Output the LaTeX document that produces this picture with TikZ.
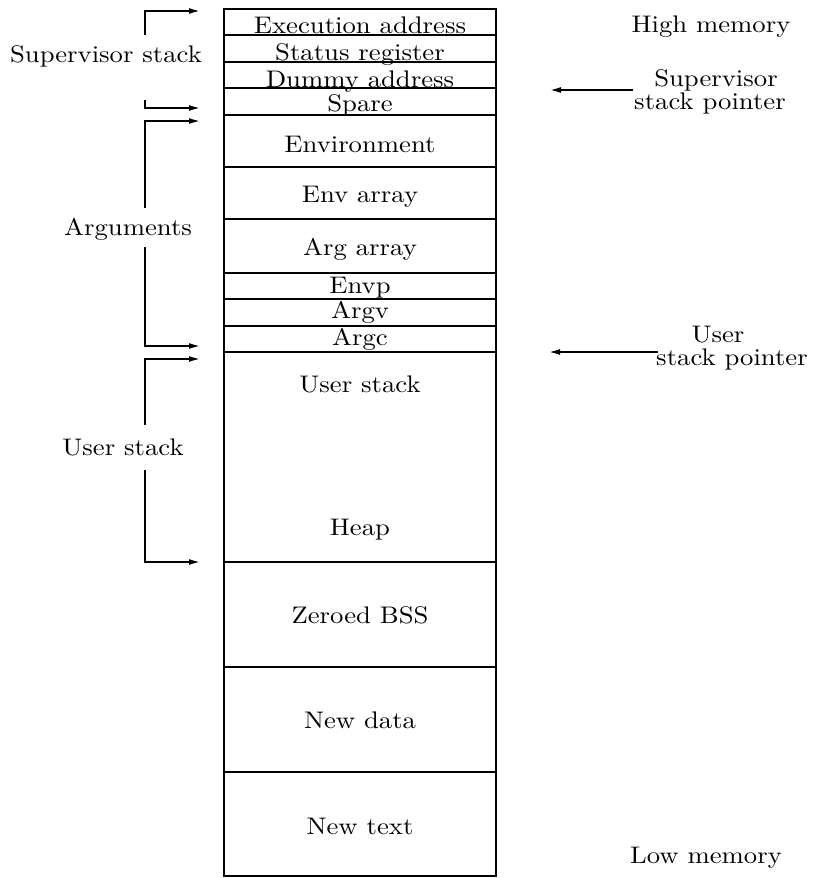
\documentclass[tikz,border=0pt]{standalone}
\usepackage{graphicx}
\usetikzlibrary{arrows.meta}
\newcommand\mtxt[1]{\scalebox{2.67}[2.4]{#1}}
\begin{document}
\begin{tikzpicture}[x=1pt,y=-1pt,
  cell/.style={draw, line width=2.2pt, minimum width=272pt, inner sep=0pt, outer sep=0pt},
  lbl/.style={inner sep=0pt, anchor=base},
  arr/.style={line width=1.6pt,-{Latex[length=11pt,width=6pt]}}]
\useasboundingbox (0,0) rectangle (815,878);
% memory cells
\node[cell, minimum height=26pt]  (exec)   at (360,22)    {};
\node[cell, minimum height=27pt]  (status) at (360,48.5)  {};
\node[cell, minimum height=26pt]  (dummy)  at (360,75)    {};
\node[cell, minimum height=27pt]  (spare)  at (360,101.5) {};
\node[cell, minimum height=52pt]  (envir)  at (360,141)   {};
\node[cell, minimum height=52pt]  (envarr) at (360,193)   {};
\node[cell, minimum height=54pt]  (argarr) at (360,246)   {};
\node[cell, minimum height=26pt]  (envp)   at (360,286)   {};
\node[cell, minimum height=27pt]  (argv)   at (360,312.5) {};
\node[cell, minimum height=26pt]  (argc)   at (360,339)   {};
\node[cell, minimum height=210pt] (ustack) at (360,457)   {};
\node[cell, minimum height=105pt] (bss)    at (360,614.5) {};
\node[cell, minimum height=105pt] (ndata)  at (360,719.5) {};
\node[cell, minimum height=104pt] (ntext)  at (360,824)   {};
% cell texts
\node[lbl] (t1)  at (360,33)  {\mtxt{Execution address}};
\node[lbl] (t2)  at (360,60)  {\mtxt{Status register}};
\node[lbl] (t3)  at (360,87)  {\mtxt{Dummy address}};
\node[lbl] (t4)  at (360,111) {\mtxt{Spare}};
\node[lbl] (t5)  at (360,152) {\mtxt{Environment}};
\node[lbl] (t6)  at (360,202) {\mtxt{Env array}};
\node[lbl] (t7)  at (360,255) {\mtxt{Arg array}};
\node[lbl] (t8)  at (360,293) {\mtxt{Envp}};
\node[lbl] (t9)  at (360,318) {\mtxt{Argv}};
\node[lbl] (t10) at (360,345) {\mtxt{Argc}};
\node[lbl] (t11) at (360,392) {\mtxt{User stack}};
\node[lbl] (t12) at (360,535) {\mtxt{Heap}};
\node[lbl] (t13) at (360,623) {\mtxt{Zeroed BSS}};
\node[lbl] (t14) at (360,728) {\mtxt{New data}};
\node[lbl] (t15) at (360,834) {\mtxt{New text}};
% left labels
\node[lbl] (lsup) at (106,62)  {\mtxt{Supervisor stack}};
\node[lbl] (larg) at (128,235) {\mtxt{Arguments}};
\node[lbl] (lusr) at (123,455) {\mtxt{User stack}};
% right labels
\node[lbl] (high) at (711,32)  {\mtxt{High memory}};
\node[lbl] (ssp1) at (716,86)  {\mtxt{Supervisor}};
\node[lbl] (ssp2) at (710,109) {\mtxt{stack pointer}};
\node[lbl] (usp1) at (718,342) {\mtxt{User}};
\node[lbl] (usp2) at (732,365) {\mtxt{stack pointer}};
\node[lbl] (low)  at (706,863) {\mtxt{Low memory}};
% bracket end coordinates
\coordinate (sa) at (145,35);  \coordinate (sat) at (200,11);
\coordinate (sb) at (145,100); \coordinate (sbt) at (200,108);
\coordinate (aa) at (145,208); \coordinate (aat) at (200,121);
\coordinate (ab) at (145,247); \coordinate (abt) at (200,346);
\coordinate (ua) at (145,425); \coordinate (uat) at (200,359);
\coordinate (ub) at (145,470); \coordinate (ubt) at (200,562);
\draw[arr] (sa) |- (sat);
\draw[arr] (sb) |- (sbt);
\draw[arr] (aa) |- (aat);
\draw[arr] (ab) |- (abt);
\draw[arr] (ua) |- (uat);
\draw[arr] (ub) |- (ubt);
% pointer arrows
\coordinate (sps) at (633,90); \coordinate (spe) at (550,90);
\coordinate (ups) at (658,352); \coordinate (upe) at (549,352);
\draw[arr] (sps) -- (spe);
\draw[arr] (ups) -- (upe);
\end{tikzpicture}
\end{document}
